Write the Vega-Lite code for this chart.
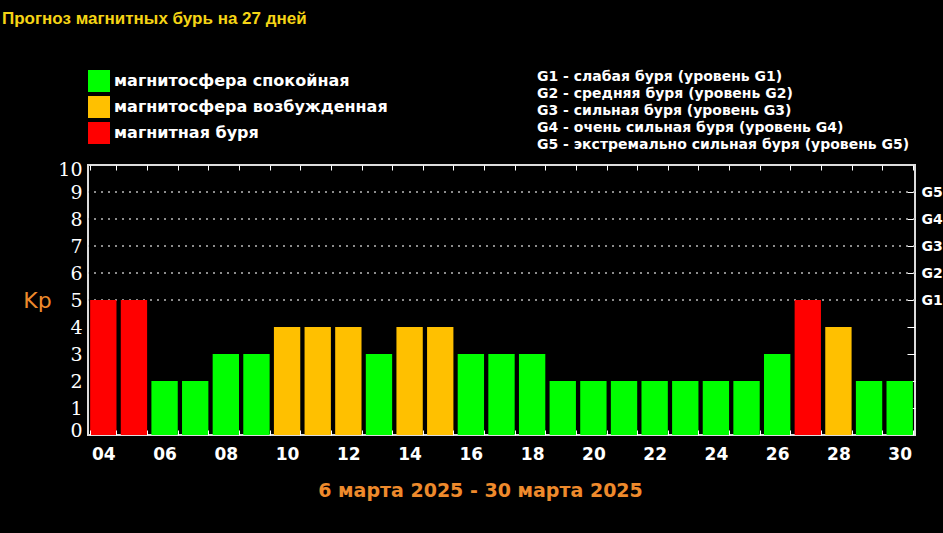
{
  "$schema": "https://vega.github.io/schema/vega-lite/v6.json",
  "width": 827,
  "height": 270,
  "autosize": {"type": "none"},
  "padding": {"left": 88, "top": 165, "right": 28, "bottom": 98},
  "background": "#000000",
  "title": {
    "text": "Прогноз магнитных бурь на 27 дней",
    "anchor": "start",
    "frame": "group",
    "dx": -86,
    "dy": -42,
    "offset": 0,
    "font": "Liberation Sans",
    "fontSize": 17,
    "fontWeight": "bold",
    "color": "#F5D415"
  },
  "config": {
    "view": {"stroke": "#DDDDDD", "strokeWidth": 2, "fill": "#000000"},
    "axis": {"labelColor": "#FFFFFF", "tickColor": "#FFFFFF", "domain": false, "grid": false}
  },
  "datasets": {
    "bars": [
      {"day": "04", "kp": 5, "status": "магнитная буря"},
      {"day": "05", "kp": 5, "status": "магнитная буря"},
      {"day": "06", "kp": 2, "status": "магнитосфера спокойная"},
      {"day": "07", "kp": 2, "status": "магнитосфера спокойная"},
      {"day": "08", "kp": 3, "status": "магнитосфера спокойная"},
      {"day": "09", "kp": 3, "status": "магнитосфера спокойная"},
      {"day": "10", "kp": 4, "status": "магнитосфера возбужденная"},
      {"day": "11", "kp": 4, "status": "магнитосфера возбужденная"},
      {"day": "12", "kp": 4, "status": "магнитосфера возбужденная"},
      {"day": "13", "kp": 3, "status": "магнитосфера спокойная"},
      {"day": "14", "kp": 4, "status": "магнитосфера возбужденная"},
      {"day": "15", "kp": 4, "status": "магнитосфера возбужденная"},
      {"day": "16", "kp": 3, "status": "магнитосфера спокойная"},
      {"day": "17", "kp": 3, "status": "магнитосфера спокойная"},
      {"day": "18", "kp": 3, "status": "магнитосфера спокойная"},
      {"day": "19", "kp": 2, "status": "магнитосфера спокойная"},
      {"day": "20", "kp": 2, "status": "магнитосфера спокойная"},
      {"day": "21", "kp": 2, "status": "магнитосфера спокойная"},
      {"day": "22", "kp": 2, "status": "магнитосфера спокойная"},
      {"day": "23", "kp": 2, "status": "магнитосфера спокойная"},
      {"day": "24", "kp": 2, "status": "магнитосфера спокойная"},
      {"day": "25", "kp": 2, "status": "магнитосфера спокойная"},
      {"day": "26", "kp": 3, "status": "магнитосфера спокойная"},
      {"day": "27", "kp": 5, "status": "магнитная буря"},
      {"day": "28", "kp": 4, "status": "магнитосфера возбужденная"},
      {"day": "29", "kp": 2, "status": "магнитосфера спокойная"},
      {"day": "30", "kp": 2, "status": "магнитосфера спокойная"}
    ],
    "grid": [{"kp": 5}, {"kp": 6}, {"kp": 7}, {"kp": 8}, {"kp": 9}],
    "levels": [
      {"g": "G1 - слабая буря (уровень G1)"},
      {"g": "G2 - средняя буря (уровень G2)"},
      {"g": "G3 - сильная буря (уровень G3)"},
      {"g": "G4 - очень сильная буря (уровень G4)"},
      {"g": "G5 - экстремально сильная буря (уровень G5)"}
    ]
  },
  "layer": [
    {
      "data": {"name": "grid"},
      "mark": {"type": "rule", "color": "#BBBBBB", "strokeWidth": 1.5, "strokeDash": [2, 5]},
      "encoding": {
        "y": {"field": "kp", "type": "quantitative", "scale": {"domain": [0, 10], "nice": false}, "axis": null}
      }
    },
    {
      "data": {"name": "bars"},
      "mark": {"type": "bar"},
      "encoding": {
        "x": {
          "field": "day",
          "type": "ordinal",
          "scale": {"paddingInner": 0.14, "paddingOuter": 0.07},
          "axis": {
            "orient": "bottom",
            "tickBand": "extent",
            "tickSize": -5,
            "zindex": 1,
            "labelAngle": 0,
            "labelPadding": 16,
            "labelFont": "DejaVu Sans",
            "labelFontSize": 17,
            "labelFontWeight": "bold",
            "labelExpr": "parseInt(datum.value, 10) % 2 == 0 ? datum.value : ''",
            "title": "6 марта 2025 - 30 марта 2025",
            "titleColor": "#EE8A2C",
            "titleFont": "DejaVu Sans",
            "titleFontSize": 19,
            "titleFontWeight": "bold",
            "titleX": 392,
            "titleY": 55,
            "titleAlign": "center",
            "titleBaseline": "middle"
          }
        },
        "y": {
          "field": "kp",
          "type": "quantitative",
          "scale": {"domain": [0, 10], "nice": false},
          "axis": {
            "orient": "left",
            "values": [0, 1, 2, 3, 4, 5, 6, 7, 8, 9, 10],
            "ticks": false,
            "labelOverlap": false,
            "labelOffset": {
              "condition": [
                {"test": "datum.value == 10", "value": 4},
                {"test": "datum.value == 0", "value": -5}
              ],
              "value": 0
            },
            "labelPadding": 6,
            "labelFont": "DejaVu Serif",
            "labelFontSize": 19,
            "title": "Kp",
            "titleColor": "#EE8A2C",
            "titleFont": "DejaVu Sans",
            "titleFontSize": 22,
            "titleFontWeight": "normal",
            "titleAngle": 0,
            "titleX": -51,
            "titleY": 135,
            "titleAlign": "center",
            "titleBaseline": "middle"
          }
        },
        "color": {
          "field": "status",
          "type": "nominal",
          "scale": {
            "domain": ["магнитосфера спокойная", "магнитосфера возбужденная", "магнитная буря"],
            "range": ["#00FF00", "#FFC000", "#FF0000"]
          },
          "legend": {
            "orient": "none",
            "legendX": 0,
            "legendY": -95,
            "title": null,
            "padding": 0,
            "symbolType": "square",
            "symbolSize": 484,
            "symbolStrokeWidth": 0,
            "symbolOpacity": 1,
            "labelColor": "#FFFFFF",
            "labelFont": "DejaVu Sans",
            "labelFontSize": 16,
            "labelFontWeight": "bold",
            "labelLimit": 0,
            "labelOffset": 4,
            "rowPadding": 4
          }
        }
      }
    },
    {
      "data": {"name": "bars"},
      "mark": {"type": "bar", "opacity": 0},
      "encoding": {
        "x": {
          "field": "day",
          "type": "ordinal",
          "axis": {"orient": "top", "tickBand": "extent", "tickSize": -5, "labels": false, "title": null}
        },
        "y": {
          "field": "kp",
          "type": "quantitative",
          "scale": {"domain": [0, 10], "nice": false},
          "axis": {
            "orient": "right",
            "values": [1, 2, 3, 4, 5, 6, 7, 8, 9],
            "tickSize": -8,
            "labelPadding": 14,
            "labelOverlap": false,
            "labelFont": "DejaVu Sans",
            "labelFontSize": 14,
            "labelFontWeight": "bold",
            "labelExpr": "datum.value >= 5 ? 'G' + (datum.value - 4) : ''",
            "title": null
          }
        }
      }
    },
    {
      "data": {"name": "levels"},
      "mark": {"type": "point", "opacity": 0},
      "encoding": {
        "shape": {
          "field": "g",
          "type": "nominal",
          "legend": {
            "orient": "none",
            "legendX": 435,
            "legendY": -95,
            "title": null,
            "padding": 0,
            "symbolSize": 0,
            "symbolOpacity": 0,
            "labelOffset": 0,
            "labelColor": "#FFFFFF",
            "labelFont": "DejaVu Sans",
            "labelFontSize": 14,
            "labelFontWeight": "bold",
            "labelLimit": 0,
            "rowPadding": 3
          }
        }
      }
    }
  ],
  "resolve": {"axis": {"x": "independent", "y": "independent"}}
}
